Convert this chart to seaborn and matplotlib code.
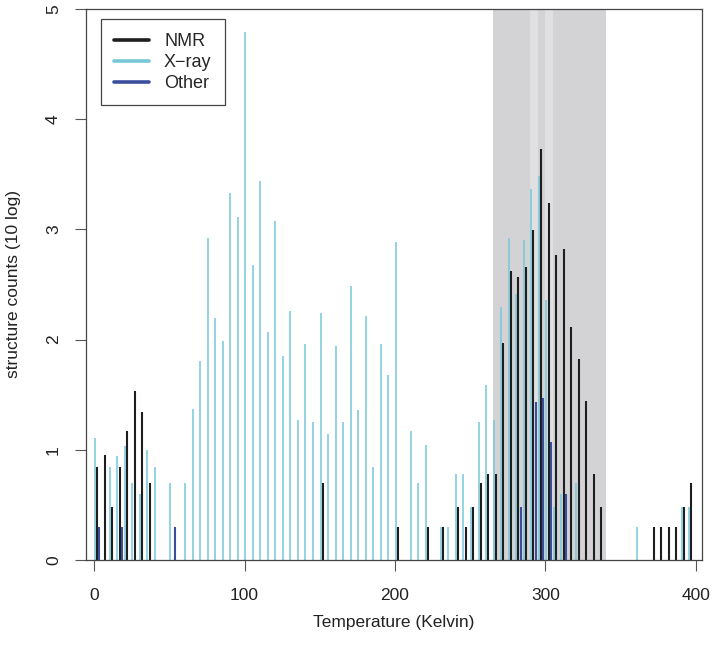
import numpy as np
import pandas as pd
import matplotlib
matplotlib.use("Agg")
import matplotlib.pyplot as plt
import seaborn as sns

# ---- data (log10 of structure counts per 5 K bin) ----
xray_temp = [0, 10, 15, 20, 25, 30, 35, 40, 50, 60, 65, 70, 75, 80, 85, 90, 95, 100,
             105, 110, 115, 120, 125, 130, 135, 140, 145, 150, 155, 160, 165, 170, 175,
             180, 185, 190, 195, 200, 210, 215, 220, 230, 235, 240, 245, 250, 255, 260,
             265, 270, 275, 280, 285, 290, 295, 300, 305, 310, 320, 360, 390, 395]
xray_val = [1.11, 0.84, 0.945, 1.03, 0.70, 0.60, 1.00, 0.84, 0.70, 0.70, 1.37, 1.81, 2.92,
            2.20, 1.99, 3.33, 3.11, 4.79, 2.68, 3.44, 2.07, 3.08, 1.85, 2.26, 1.27, 1.96,
            1.25, 2.24, 1.14, 1.94, 1.25, 2.49, 1.36, 2.21, 0.84, 1.96, 1.68, 2.89, 1.17,
            0.70, 1.04, 0.30, 0.30, 0.78, 0.78, 0.48, 1.25, 1.59, 1.27, 2.30, 2.92, 2.41,
            2.90, 3.37, 3.48, 2.36, 0.48, 0.60, 0.70, 0.30, 0.48, 0.48]

nmr_temp = [0, 5, 10, 15, 20, 25, 30, 35, 150, 200, 220, 230, 240, 245, 250, 255, 260, 265,
            270, 275, 280, 285, 290, 295, 300, 305, 310, 315, 320, 325, 330, 335,
            370, 375, 380, 385, 390, 395]
nmr_val = [0.84, 0.95, 0.48, 0.84, 1.17, 1.53, 1.34, 0.70, 0.70, 0.30, 0.30, 0.30, 0.48,
           0.30, 0.48, 0.70, 0.78, 0.78, 1.97, 2.62, 2.57, 2.66, 2.99, 3.73, 3.24, 2.77,
           2.82, 2.11, 1.82, 1.44, 0.78, 0.48, 0.30, 0.30, 0.30, 0.30, 0.48, 0.70]

other_temp = [0, 15, 50, 280, 290, 295, 300, 310]
other_val = [0.30, 0.30, 0.30, 0.48, 1.43, 1.47, 1.07, 0.60]

# series styling: label, colour, x shift inside the bin, line width
series = [
    ("X-ray", xray_temp, xray_val, "#78C8D8", 0.5, 1.1),
    ("NMR", nmr_temp, nmr_val, "#1E1E1E", 2.0, 1.5),
    ("Other", other_temp, other_val, "#3B4E9C", 3.5, 1.5),
]

# shaded temperature windows
room_span = (265, 340)
light_spans = [(290, 295), (300, 305)]

sns.set_theme(style="ticks")
plt.rcParams['font.family'] = ['Liberation Sans', 'DejaVu Sans']

fig = plt.figure(figsize=(7.14, 6.51), dpi=100)
ax = fig.add_axes([0.1205, 0.1398, 0.8627, 0.8464])

ax.axvspan(*room_span, color="#D3D3D5", lw=0, zorder=0)
for lo, hi in light_spans:
    ax.axvspan(lo, hi, color="#E0E0E2", lw=0, zorder=0)

handles = {}
for name, temps, vals, col, shift, lw in series:
    df = pd.DataFrame({"T": temps, "v": vals})
    ax.vlines(df["T"] + shift, 0, df["v"], color=col, lw=lw, zorder=2)
    handles[name] = plt.Line2D([], [], color=col, lw=2.6)

ax.set_xlim(-5.3, 404)
ax.set_ylim(0, 5)
ax.set_xticks([0, 100, 200, 300, 400])
ax.set_yticks([0, 1, 2, 3, 4, 5])
ax.tick_params(axis="both", direction="out", length=8, width=0.8, color="#555555",
               labelsize=12.5, labelcolor="#222222")
ax.tick_params(axis="x", pad=12.5)
ax.tick_params(axis="y", pad=10)
for lab in ax.get_yticklabels():
    lab.set_rotation(90)
    lab.set_va("center")
for sp in ax.spines.values():
    sp.set_visible(True)
    sp.set_color("#444444")
    sp.set_linewidth(0.9)

ax.set_xlabel("Temperature (Kelvin)", fontsize=12.5, color="#222222", labelpad=8)
ax.set_ylabel("structure counts (10 log)", fontsize=12.5, color="#222222", labelpad=18)

leg = ax.legend([handles["NMR"], handles["X-ray"], handles["Other"]],
                ["NMR", "X\u2212ray", "Other"],
                loc="upper left", bbox_to_anchor=(0.024, 0.981), borderaxespad=0,
                fontsize=13, frameon=True, fancybox=False, framealpha=1,
                edgecolor="#444444", handlelength=1.9, handletextpad=0.85,
                borderpad=0.75, labelspacing=0.22)
leg.get_frame().set_linewidth(0.9)

fig.savefig("out.png", dpi=100)
